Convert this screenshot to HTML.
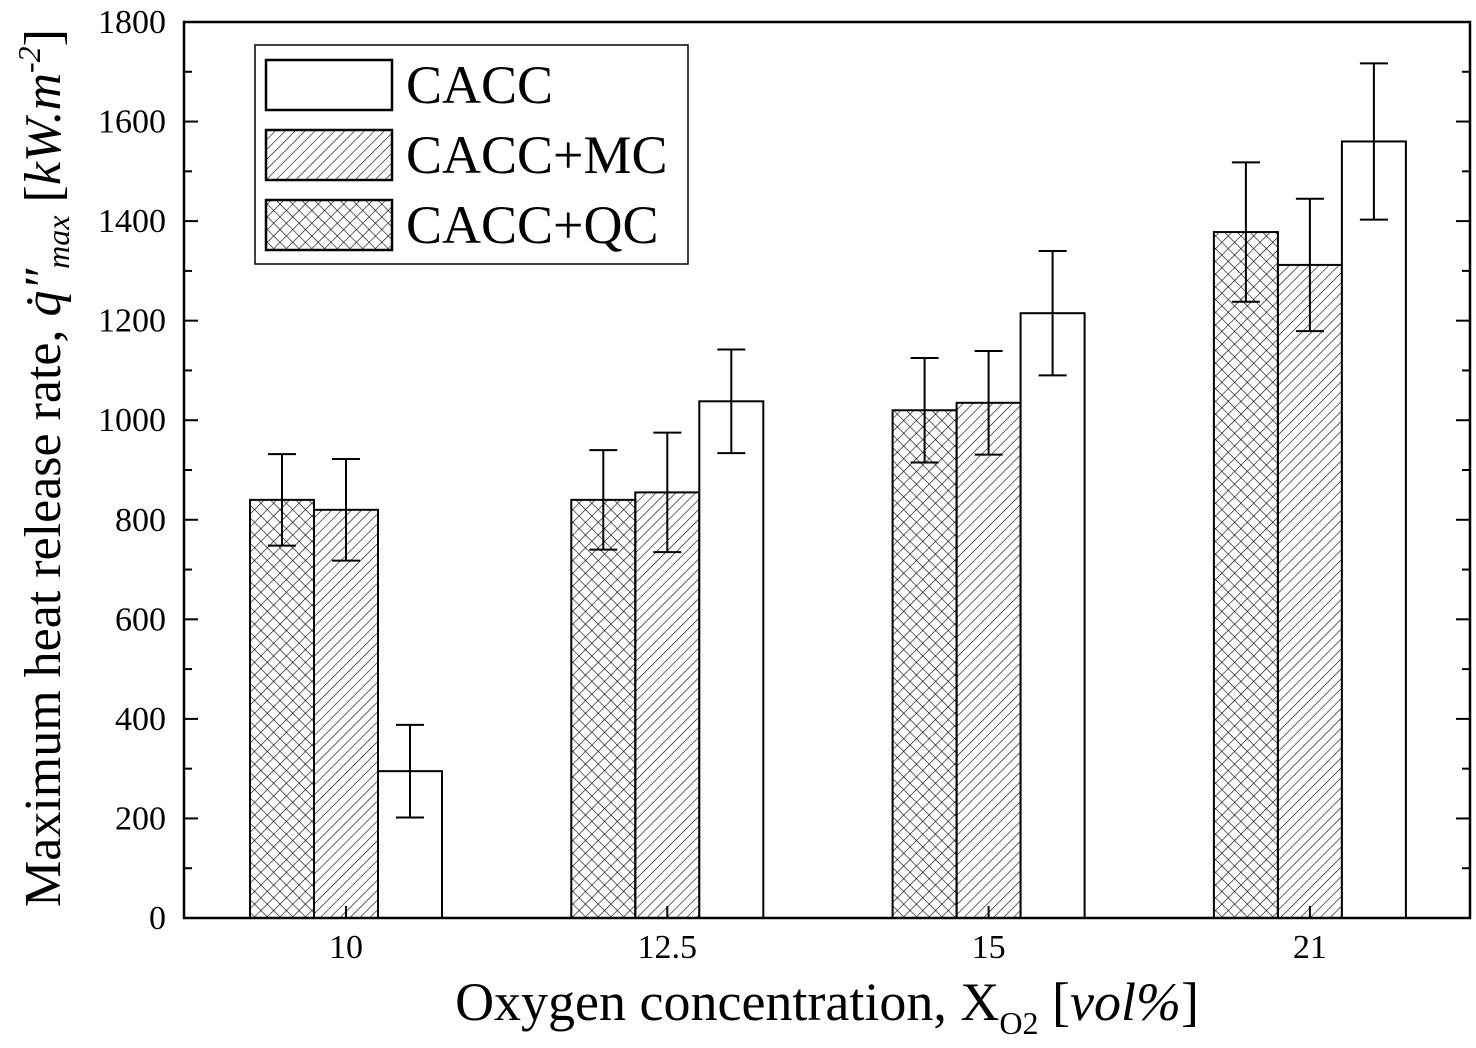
<!DOCTYPE html>
<html><head><meta charset="utf-8"><style>
body{margin:0;background:#fff}
svg{display:block;font-family:"Liberation Serif",serif}
</style></head><body>
<svg width="1476" height="1048" viewBox="0 0 1476 1048">
<defs>
<pattern id="diag" patternUnits="userSpaceOnUse" width="7" height="7" patternTransform="rotate(45)">
<line x1="0" y1="0" x2="0" y2="7" stroke="#000" stroke-width="1.2"/></pattern>
<pattern id="cross" patternUnits="userSpaceOnUse" width="9" height="9" patternTransform="rotate(45)">
<line x1="0" y1="0" x2="0" y2="9" stroke="#000" stroke-width="1.2"/><line x1="0" y1="0" x2="9" y2="0" stroke="#000" stroke-width="1.2"/></pattern>
</defs>
<g id="bars"></g>
<rect x="184" y="22" width="1286" height="896" fill="none" stroke="#000" stroke-width="2.5"/>
<g id="axes"></g>
<g>
<rect x="255" y="45" width="433" height="219" fill="#fff" stroke="#000" stroke-width="1.5"/>
<rect x="266" y="60" width="126" height="50" fill="#fff" stroke="#000" stroke-width="2.5"/>
<text x="406" y="103" font-size="54">CACC</text>
<rect x="266" y="130" width="126" height="50" fill="url(#diag)" stroke="#000" stroke-width="2.5"/>
<text x="406" y="173" font-size="54">CACC+MC</text>
<rect x="266" y="200" width="126" height="50" fill="url(#cross)" stroke="#000" stroke-width="2.5"/>
<text x="406" y="243" font-size="54">CACC+QC</text>
</g>
<text x="827" y="1020" font-size="54" text-anchor="middle">Oxygen concentration, X<tspan font-size="32" dy="14">O2</tspan><tspan dy="-14"> [</tspan><tspan font-style="italic">vol%</tspan>]</text>
<text transform="translate(60,468) rotate(-90)" font-size="52" text-anchor="middle">Maximum heat release rate, <tspan font-style="italic">q̇″</tspan><tspan font-style="italic" font-size="32" dy="9">max</tspan><tspan dy="-9"> [</tspan><tspan font-style="italic">kW.m</tspan><tspan font-style="italic" font-size="32" dy="-20">-2</tspan><tspan dy="20">]</tspan></text>
<script>
const categories=["10","12.5","15","21"];
const qcValues=[840,840,1020,1378];
const qcErr=[92,100,105,140];
const mcValues=[820,855,1035,1312];
const mcErr=[102,120,104,133];
const caccValues=[295,1038,1215,1560];
const caccErr=[93,104,125,157];
const yTicks=[0,200,400,600,800,1000,1200,1400,1600,1800];
const NS="http://www.w3.org/2000/svg";
const x0=184,x1=1470,yb=918,yt=22;
const y=v=>yb-(v/1800)*(yb-yt);
const groupX=i=>346+i*321.3;
const bw=64;
const bars=document.getElementById('bars'),axes=document.getElementById('axes');
function mk(tag,at,p){const e=document.createElementNS(NS,tag);for(const k in at)e.setAttribute(k,at[k]);p.appendChild(e);return e;}
const series=[[qcValues,qcErr,'url(#cross)','qc'],[mcValues,mcErr,'url(#diag)','mc'],[caccValues,caccErr,'#fff','cacc']];
categories.forEach((c,i)=>{
 series.forEach((s,j)=>{
  const bx=groupX(i)-1.5*bw+j*bw, v=s[0][i], e=s[1][i];
  const r=mk('rect',{x:bx,y:y(v),width:bw,height:yb-y(v),fill:s[2],stroke:'#000','stroke-width':2},bars);
  
  
  const cx=bx+bw/2;
  const g=mk('g',{stroke:'#000','stroke-width':2},bars);
  
  
  mk('line',{x1:cx,x2:cx,y1:y(v+e),y2:y(v-e)},g);
  mk('line',{x1:cx-14,x2:cx+14,y1:y(v+e),y2:y(v+e)},g);
  mk('line',{x1:cx-14,x2:cx+14,y1:y(v-e),y2:y(v-e)},g);
 });
 const t=mk('text',{x:groupX(i),y:958,'font-size':34,'text-anchor':'middle'},axes);
 t.textContent=c;
 
 
 mk('line',{x1:groupX(i),x2:groupX(i),y1:yb,y2:yb-12,stroke:'#000','stroke-width':2},axes);
});
yTicks.forEach(v=>{
 mk('line',{x1:x0,x2:x0+14,y1:y(v),y2:y(v),stroke:'#000','stroke-width':2},axes);
 mk('line',{x1:x1,x2:x1-14,y1:y(v),y2:y(v),stroke:'#000','stroke-width':2},axes);
 if(v<1800){mk('line',{x1:x0,x2:x0+8,y1:y(v+100),y2:y(v+100),stroke:'#000','stroke-width':2},axes);mk('line',{x1:x1,x2:x1-8,y1:y(v+100),y2:y(v+100),stroke:'#000','stroke-width':2},axes);}
 const t=mk('text',{x:166,y:y(v)+11,'font-size':34,'text-anchor':'end'},axes);
 t.textContent=v;
 
 
});
</script>
</svg>
</body></html>
